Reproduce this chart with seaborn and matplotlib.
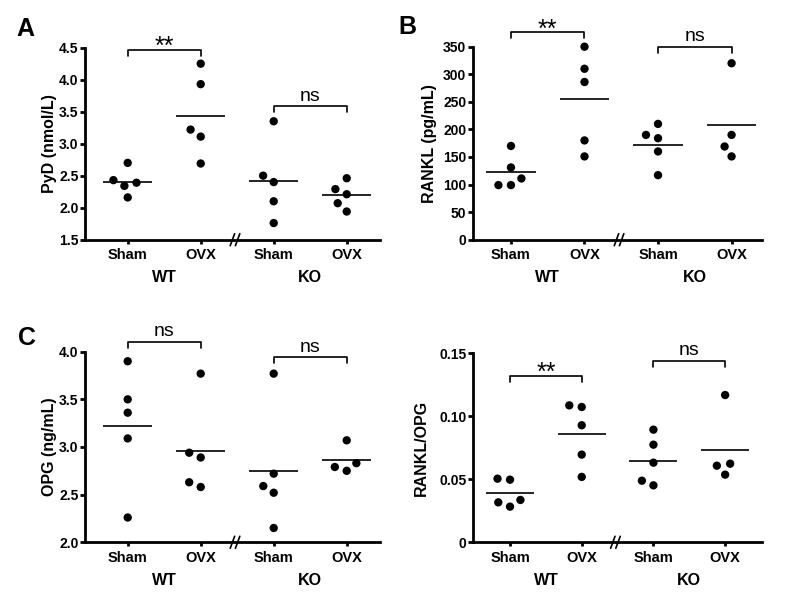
import numpy as np
import pandas as pd
import seaborn as sns
import matplotlib.pyplot as plt

# x axis order and labels
groups = ['WT Sham', 'WT OVX', 'KO Sham', 'KO OVX']
tick_labels = ['Sham', 'OVX', 'Sham', 'OVX']
genotypes = ['WT', 'KO']

# values ----------------------------------------------------------------
pyd_wt_sham = [2.70, 2.43, 2.39, 2.34, 2.16]
pyd_wt_ovx = [4.25, 3.93, 3.22, 3.11, 2.69]
pyd_ko_sham = [3.35, 2.50, 2.40, 2.10, 1.76]
pyd_ko_ovx = [2.46, 2.29, 2.21, 2.07, 1.94]
pyd_sig = ['**', 'ns']

rankl_wt_sham = [170, 131, 111, 99, 99]
rankl_wt_ovx = [350, 310, 286, 180, 151]
rankl_ko_sham = [210, 190, 184, 160, 117]
rankl_ko_ovx = [320, 190, 169, 151]
rankl_sig = ['**', 'ns']

opg_wt_sham = [3.90, 3.50, 3.36, 3.09, 2.26]
opg_wt_ovx = [3.77, 2.94, 2.89, 2.63, 2.58]
opg_ko_sham = [3.77, 2.72, 2.59, 2.52, 2.15]
opg_ko_ovx = [3.07, 2.83, 2.79, 2.75]
opg_sig = ['ns', 'ns']

ratio_wt_sham = [0.0505, 0.0497, 0.0336, 0.0317, 0.0283]
ratio_wt_ovx = [0.1087, 0.1074, 0.0929, 0.0696, 0.0519]
ratio_ko_sham = [0.0894, 0.0775, 0.0632, 0.0489, 0.0452]
ratio_ko_ovx = [0.1169, 0.0624, 0.0608, 0.0537]
ratio_sig = ['**', 'ns']

panels = [
    dict(letter='A', letter_xy=(0.021, 0.972), ylabel='PyD (nmol/L)',
         data=[pyd_wt_sham, pyd_wt_ovx, pyd_ko_sham, pyd_ko_ovx], sig=pyd_sig,
         rect=[0.10625, 0.6012, 0.36875, 0.3195], xlim=(-0.585, 3.456), ylim=(1.5, 4.5),
         yticks=[1.5, 2.0, 2.5, 3.0, 3.5, 4.0, 4.5],
         yticklabels=['1.5', '2.0', '2.5', '3.0', '3.5', '4.0', '4.5'],
         bracket_y=[4.47, 3.583], ylabel_x=-0.095),
    dict(letter='B', letter_xy=(0.498, 0.975), ylabel='RANKL (pg/mL)',
         data=[rankl_wt_sham, rankl_wt_ovx, rankl_ko_sham, rankl_ko_ovx], sig=rankl_sig,
         rect=[0.5909, 0.6012, 0.36125, 0.3211], xlim=(-0.52, 3.41), ylim=(0, 350),
         yticks=[0, 50, 100, 150, 200, 250, 300, 350],
         yticklabels=['0', '50', '100', '150', '200', '250', '300', '350'],
         bracket_y=[376, 350], ylabel_x=-0.123),
    dict(letter='C', letter_xy=(0.022, 0.458), ylabel='OPG (ng/mL)',
         data=[opg_wt_sham, opg_wt_ovx, opg_ko_sham, opg_ko_ovx], sig=opg_sig,
         rect=[0.10625, 0.0977, 0.36875, 0.3171], xlim=(-0.585, 3.456), ylim=(2.0, 4.0),
         yticks=[2.0, 2.5, 3.0, 3.5, 4.0],
         yticklabels=['2.0', '2.5', '3.0', '3.5', '4.0'],
         bracket_y=[4.105, 3.94], ylabel_x=-0.095),
    dict(letter=None, letter_xy=None, ylabel='RANKL/OPG',
         data=[ratio_wt_sham, ratio_wt_ovx, ratio_ko_sham, ratio_ko_ovx], sig=ratio_sig,
         rect=[0.5909, 0.0977, 0.36125, 0.3144], xlim=(-0.52, 3.51), ylim=(0, 0.15),
         yticks=[0, 0.05, 0.10, 0.15],
         yticklabels=['0', '0.05', '0.10', '0.15'],
         bracket_y=[0.132, 0.1439], ylabel_x=-0.152),
]


def make_frame(series):
    rows = []
    for g, vals in zip(groups, series):
        for v in vals:
            rows.append({'group': g, 'value': v})
    return pd.DataFrame(rows)


sns.set_theme(style='ticks', rc={'axes.edgecolor': 'black', 'text.color': 'black',
                                 'xtick.color': 'black', 'ytick.color': 'black',
                                 'axes.labelcolor': 'black'})
plt.rcParams['font.family'] = ['Liberation Sans', 'DejaVu Sans']

fig = plt.figure(figsize=(8, 6.01), dpi=100)

for p in panels:
    ax = fig.add_axes(p['rect'])
    df = make_frame(p['data'])
    # edge width only widens the swarm spacing, the edge itself is invisible
    sns.swarmplot(data=df, x='group', y='value', order=groups, color='black',
                  size=6.0, linewidth=2.6, edgecolor='none', ax=ax)
    for c in ax.collections:
        c.set_clip_on(False)

    means = df.groupby('group')['value'].mean().reindex(groups)
    pos = np.arange(len(groups))
    ax.hlines(means.values, pos - 0.335, pos + 0.335, color='black', lw=1.2, zorder=1)

    ax.set_xlim(*p['xlim'])
    ax.set_ylim(*p['ylim'])
    ax.set_yticks(p['yticks'])
    ax.set_yticklabels(p['yticklabels'], fontsize=10, fontweight='bold')
    ax.set_xticks(pos)
    ax.set_xticklabels(tick_labels, fontsize=10.5, fontweight='bold')
    ax.set_xlabel('')
    ax.set_ylabel(p['ylabel'], fontsize=11.5, fontweight='bold')
    ax.yaxis.set_label_coords(p['ylabel_x'], 0.5)
    sns.despine(ax=ax)
    for s in ['left', 'bottom']:
        ax.spines[s].set_linewidth(2.0)
    ax.tick_params(axis='y', length=3.6, width=2.0, pad=1)
    ax.tick_params(axis='x', length=3.0, width=2.0, pad=3)

    # group names under the tick labels
    for k, name in enumerate(genotypes):
        ax.annotate(name, xy=(2 * k + 0.5, 0), xycoords=ax.get_xaxis_transform(),
                    xytext=(0, -27.5), textcoords='offset points', ha='center',
                    va='center', fontsize=11.5, fontweight='bold')

    # axis break marks
    fig.canvas.draw()
    px_x = ax.bbox.width / (p['xlim'][1] - p['xlim'][0])
    px_y = ax.bbox.height
    for dx in (-2.6, 2.6):
        ax.plot([1.47 + (dx - 2.2) / px_x, 1.47 + (dx + 2.2) / px_x],
                [-6 / px_y, 6 / px_y], color='black', lw=1.2,
                transform=ax.get_xaxis_transform(), clip_on=False)

    # significance brackets
    yrange = p['ylim'][1] - p['ylim'][0]
    for k, label in enumerate(p['sig']):
        x0, x1 = 2 * k, 2 * k + 1
        top = p['bracket_y'][k]
        low = top - 6 / px_y * yrange
        ax.plot([x0, x0, x1, x1], [low, top, top, low], color='black', lw=1.2,
                clip_on=False)
        if label == '**':
            ax.annotate(label, xy=((x0 + x1) / 2, top), xytext=(0, -3),
                        textcoords='offset points', ha='center', va='baseline',
                        fontsize=18, annotation_clip=False)
        else:
            ax.annotate(label, xy=((x0 + x1) / 2, top), xytext=(0, 4),
                        textcoords='offset points', ha='center', va='baseline',
                        fontsize=14, annotation_clip=False)

    if p['letter']:
        fig.text(p['letter_xy'][0], p['letter_xy'][1], p['letter'], fontsize=18,
                 fontweight='bold', ha='left', va='top')

fig.savefig('out.png', dpi=100)
